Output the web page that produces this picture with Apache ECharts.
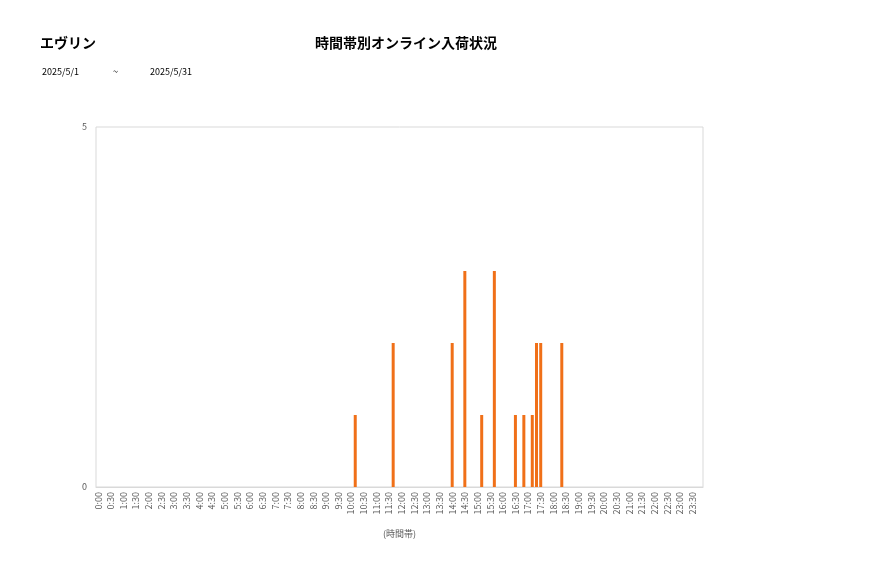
<!DOCTYPE html>
<html>
<head>
<meta charset="utf-8">
<script src="https://cdn.jsdelivr.net/npm/echarts@6/dist/echarts.min.js"></script>
<style>
  html, body { margin: 0; padding: 0; background: #fff; }
  #chart { width: 877px; height: 578px; }
</style>
</head>
<body>
<div id="chart"></div>
<script>
// 10-minute slots, 0:00 .. 23:50
const timeSlots = [];
for (let h = 0; h < 24; h++) {
    for (let m = 0; m < 60; m += 10) {
        timeSlots.push(h + ':' + (m < 10 ? '0' + m : m));
    }
}

// slots that had arrivals, and their counts
const arrivalTimes  = ['10:10', '11:40', '14:00', '14:30', '15:10', '15:40', '16:30', '16:50', '17:10', '17:20', '17:30', '18:20'];
const arrivalCounts = [1, 2, 2, 3, 1, 3, 1, 1, 1, 2, 2, 2];

const shopName = 'エヴリン';
const chartTitle = '時間帯別オンライン入荷状況';
const dateFrom = '2025/5/1';
const dateTo = '2025/5/31';

const seriesData = timeSlots.map(function (t) {
    const i = arrivalTimes.indexOf(t);
    return i >= 0 ? arrivalCounts[i] : 0;
});

const font = '"Noto Sans CJK JP", "Noto Sans", sans-serif';
const myChart = echarts.init(document.getElementById('chart'));

myChart.setOption({
    animation: false,
    textStyle: { fontFamily: font },
    title: [
        { text: shopName, left: 35, top: 31,
          textStyle: { fontSize: 14, fontWeight: 'bold', color: '#000', fontFamily: font } },
        { text: chartTitle, left: 310, top: 31,
          textStyle: { fontSize: 14, fontWeight: 'bold', color: '#000', fontFamily: font } },
        { text: dateFrom, left: 37, top: 62,
          textStyle: { fontSize: 9, fontWeight: 'normal', color: '#000', fontFamily: font } },
        { text: '~', left: 108, top: 62,
          textStyle: { fontSize: 9, fontWeight: 'normal', color: '#000', fontFamily: font } },
        { text: dateTo, left: 145, top: 62,
          textStyle: { fontSize: 9, fontWeight: 'normal', color: '#000', fontFamily: font } }
    ],
    grid: {
        left: 96, right: 174, top: 127, bottom: 91,
        show: true, borderColor: '#d9d9d9', borderWidth: 1
    },
    xAxis: {
        type: 'category',
        data: timeSlots,
        name: '(時間帯)',
        nameLocation: 'middle',
        nameGap: 42,
        nameTextStyle: { fontSize: 9, color: '#595959', fontFamily: font },
        axisLine: { lineStyle: { color: '#d9d9d9' } },
        axisTick: { show: false },
        axisLabel: {
            interval: 2,
            rotate: 90,
            fontSize: 9,
            color: '#595959',
            margin: 5,
            fontFamily: font
        }
    },
    yAxis: {
        type: 'value',
        min: 0,
        max: 5,
        interval: 5,
        axisLine: { show: false },
        axisTick: { show: false },
        splitLine: { show: false },
        axisLabel: { fontSize: 9, color: '#595959', margin: 9, fontFamily: font }
    },
    series: [{
        type: 'bar',
        data: seriesData,
        barWidth: 3,
        itemStyle: { color: '#f07018' }
    }]
});
</script>
</body>
</html>
